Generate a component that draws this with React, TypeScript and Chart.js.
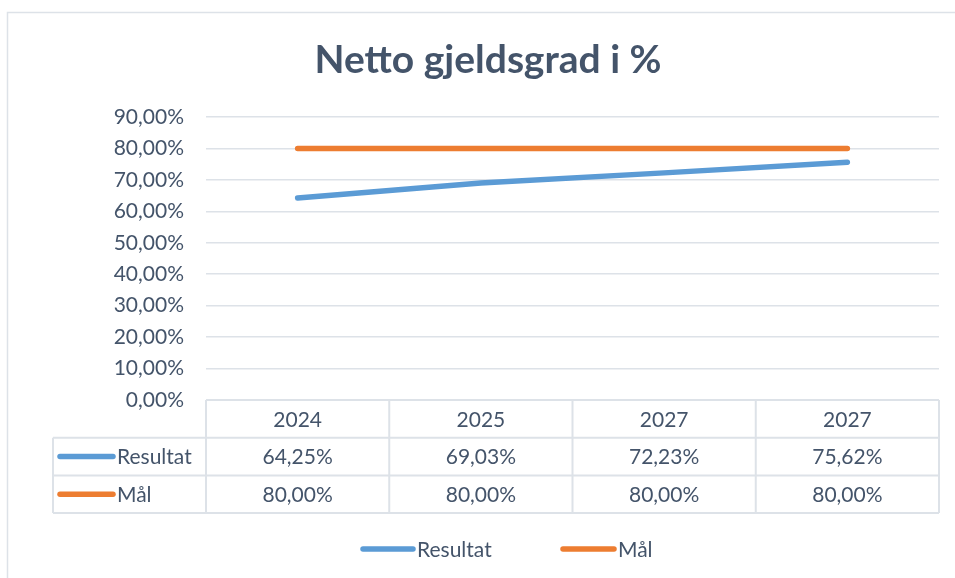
import React, { useEffect, useRef } from "react";
import { Chart, registerables } from "chart.js";

Chart.register(...registerables);

const title = "Netto gjeldsgrad i %";
const categories = ["2024", "2025", "2027", "2027"];
const seriesNames = ["Resultat", "Mål"];
const resultat = [0.6425, 0.6903, 0.7223, 0.7562];
const maal = [0.8, 0.8, 0.8, 0.8];
const colors = ["#5B9BD5", "#ED7D31"];
const yMax = 0.9;
const yStep = 0.1;

const TEXT = "#44546A";
const GRID = "#DDE2E8";
const FONT = "Lato, 'Open Sans', sans-serif";

const fmt = (v: number) => (v * 100).toFixed(2).replace(".", ",") + "%";

const overlay = {
  id: "overlay",
  afterDraw(chart: any) {
    const ctx = chart.ctx as CanvasRenderingContext2D;
    const area = chart.chartArea;
    const xs = chart.scales.x;
    const n = categories.length;
    const colW = (area.right - area.left) / n;
    const rowH = 37.7;
    const top = area.bottom;
    const tableLeft = 53;
    ctx.save();
    // frame
    ctx.strokeStyle = GRID;
    ctx.lineWidth = 1.5;
    ctx.beginPath();
    ctx.moveTo(7.5, 600);
    ctx.lineTo(7.5, 12.5);
    ctx.lineTo(960, 12.5);
    ctx.stroke();
    // title
    ctx.fillStyle = TEXT;
    ctx.font = `bold 39px ${FONT}`;
    ctx.textAlign = "center";
    ctx.textBaseline = "middle";
    ctx.fillText(title, 488, 60);
    // table lines
    ctx.strokeStyle = GRID;
    ctx.lineWidth = 2;
    ctx.beginPath();
    ctx.moveTo(area.left, top);
    ctx.lineTo(area.right, top);
    for (let r = 1; r <= 3; r++) {
      ctx.moveTo(tableLeft, top + r * rowH);
      ctx.lineTo(area.right, top + r * rowH);
    }
    for (let c = 0; c <= n; c++) {
      const x = area.left + c * colW;
      ctx.moveTo(x, top);
      ctx.lineTo(x, top + 3 * rowH);
    }
    ctx.moveTo(tableLeft, top + rowH);
    ctx.lineTo(tableLeft, top + 3 * rowH);
    ctx.stroke();
    // text
    ctx.fillStyle = TEXT;
    ctx.font = `21px ${FONT}`;
    ctx.textAlign = "center";
    ctx.textBaseline = "middle";
    const rows = [resultat, maal];
    categories.forEach((c, i) => {
      const x = xs.getPixelForValue(i);
      ctx.fillText(c, x, top + rowH * 0.5 + 1);
      rows.forEach((row, r) => {
        ctx.fillText(fmt(row[i]), x, top + rowH * (r + 1.5) + 1);
      });
    });
    const drawKey = (x1: number, x2: number, y: number, color: string, label: string) => {
      ctx.strokeStyle = color;
      ctx.lineWidth = 5.5;
      ctx.lineCap = "round";
      ctx.beginPath();
      ctx.moveTo(x1, y);
      ctx.lineTo(x2, y);
      ctx.stroke();
      ctx.fillStyle = TEXT;
      ctx.textAlign = "left";
      ctx.fillText(label, x2 + 4, y + 1);
    };
    seriesNames.forEach((s, r) => {
      drawKey(60, 113, top + rowH * (r + 1.5), colors[r], s);
    });
    drawKey(363, 413, 549, colors[0], seriesNames[0]);
    drawKey(563, 614, 549, colors[1], seriesNames[1]);
    ctx.restore();
  },
};

export default function App() {
  const ref = useRef<HTMLCanvasElement>(null);
  useEffect(() => {
    const chart = new Chart(ref.current!, {
      type: "line",
      data: {
        labels: categories,
        datasets: [
          {
            label: seriesNames[0],
            data: resultat,
            borderColor: colors[0],
            backgroundColor: colors[0],
            borderWidth: 5.5,
            borderCapStyle: "round",
            pointRadius: 0,
            tension: 0,
          },
          {
            label: seriesNames[1],
            data: maal,
            borderColor: colors[1],
            backgroundColor: colors[1],
            borderWidth: 5.5,
            borderCapStyle: "round",
            pointRadius: 0,
            tension: 0,
          },
        ],
      },
      options: {
        animation: false,
        responsive: false,
        devicePixelRatio: 1,
        layout: { padding: { left: 0, top: 117, right: 16, bottom: 178 } },
        plugins: { legend: { display: false }, title: { display: false }, tooltip: { enabled: false } },
        scales: {
          x: { display: false, offset: true },
          y: {
            min: 0,
            max: yMax,
            afterFit: (s: any) => {
              s.width = 206;
            },
            border: { display: false },
            grid: { color: GRID, lineWidth: 1.5, drawTicks: false },
            ticks: {
              stepSize: yStep,
              padding: 22,
              color: TEXT,
              font: { family: FONT, size: 21 },
              callback: (v: any) => fmt(Number(v)),
            },
          },
        },
      },
      plugins: [overlay],
    });
    return () => chart.destroy();
  }, []);
  return (
    <div style={{ position: "fixed", left: 0, top: 0, width: 955, height: 578, background: "#fff" }}>
      <canvas ref={ref} width={955} height={578} />
    </div>
  );
}
